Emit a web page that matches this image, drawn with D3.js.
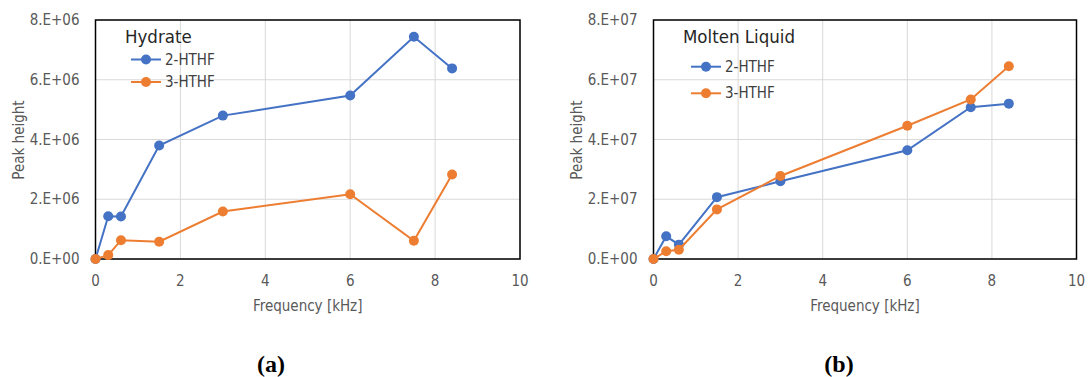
<!DOCTYPE html>
<html>
<head>
<meta charset="utf-8">
<script src="https://cdn.jsdelivr.net/npm/d3@7"></script>
<style>
  body { margin: 0; background: #fff; }
  svg text { font-family: "DejaVu Sans Condensed", "Roboto", sans-serif; }
  svg text.caption { font-family: "Liberation Serif", "DejaVu Serif", serif; }
</style>
</head>
<body>
<script>
(function() {

    // frequency values shared by both panels
    var freq = [0, 0.3, 0.6, 1.5, 3, 6, 7.5, 8.4];

    // panel (a) hydrate
    var hydrate2 = [0, 1.43e6, 1.42e6, 3.8e6, 4.8e6, 5.47e6, 7.44e6, 6.38e6];
    var hydrate3 = [0, 0.13e6, 0.63e6, 0.58e6, 1.59e6, 2.17e6, 0.61e6, 2.83e6];

    // panel (b) molten liquid
    var liquid2 = [0, 0.76e7, 0.48e7, 2.07e7, 2.6e7, 3.64e7, 5.08e7, 5.2e7];
    var liquid3 = [0, 0.26e7, 0.31e7, 1.66e7, 2.78e7, 4.46e7, 5.34e7, 6.45e7];

    var xTicks = [0, 2, 4, 6, 8, 10];
    var yTicksA = ["0.E+00", "2.E+06", "4.E+06", "6.E+06", "8.E+06"];
    var yTicksB = ["0.E+00", "2.E+07", "4.E+07", "6.E+07", "8.E+07"];
    var seriesNames = ["2-HTHF", "3-HTHF"];
    var colors = ["#4472C4", "#ED7D31"];

    var width = 1089, height = 377;

    var svg = d3.select("body").append("svg")
        .attr("width", width)
        .attr("height", height);

    var drawPanel = function(opt) {
        var x = d3.scaleLinear().domain([0, 10]).range([opt.left, opt.right]);
        var y = d3.scaleLinear().domain([0, opt.yMax]).range([259, 20]);
        var g = svg.append("g");
        var yVals = opt.yLabels.map(function(d, i) { return i * opt.yMax / 4; });

        // grid
        g.selectAll(".gx").data(xTicks).enter().append("line")
            .attr("x1", function(d) { return x(d); })
            .attr("x2", function(d) { return x(d); })
            .attr("y1", y(0)).attr("y2", y(opt.yMax))
            .attr("stroke", "#d9d9d9").attr("stroke-width", 1);
        g.selectAll(".gy").data(yVals).enter().append("line")
            .attr("x1", x(0)).attr("x2", x(10))
            .attr("y1", function(d) { return y(d); })
            .attr("y2", function(d) { return y(d); })
            .attr("stroke", "#d9d9d9").attr("stroke-width", 1);

        // plot border
        g.append("rect")
            .attr("x", x(0)).attr("y", y(opt.yMax))
            .attr("width", x(10) - x(0)).attr("height", y(0) - y(opt.yMax))
            .attr("fill", "none").attr("stroke", "#000").attr("stroke-width", 1.5);

        // tick labels
        g.selectAll(".tx").data(xTicks).enter().append("text")
            .attr("x", function(d) { return x(d); })
            .attr("y", 286)
            .attr("text-anchor", "middle")
            .attr("font-size", 15).attr("fill", "#595959")
            .text(function(d) { return d; });
        g.selectAll(".ty").data(opt.yLabels).enter().append("text")
            .attr("x", x(0) - 16)
            .attr("y", function(d, i) { return y(yVals[i]) + 5; })
            .attr("text-anchor", "end")
            .attr("font-size", 15).attr("fill", "#595959")
            .text(function(d) { return d; });

        // axis titles
        g.append("text")
            .attr("x", (x(0) + x(10)) / 2).attr("y", 311)
            .attr("text-anchor", "middle")
            .attr("font-size", 15).attr("fill", "#595959")
            .text("Frequency [kHz]");
        g.append("text")
            .attr("transform", "translate(" + (opt.left - 72) + ",140) rotate(-90)")
            .attr("text-anchor", "middle")
            .attr("font-size", 15).attr("fill", "#595959")
            .text("Peak height");

        // series
        var line = d3.line()
            .x(function(d) { return x(d[0]); })
            .y(function(d) { return y(d[1]); });

        opt.series.forEach(function(vals, si) {
            var pts = freq.map(function(f, i) { return [f, vals[i]]; });
            g.append("path").datum(pts)
                .attr("d", line)
                .attr("fill", "none")
                .attr("stroke", colors[si]).attr("stroke-width", 2);
            g.selectAll(".p" + si).data(pts).enter().append("circle")
                .attr("cx", function(d) { return x(d[0]); })
                .attr("cy", function(d) { return y(d[1]); })
                .attr("r", 5)
                .attr("fill", colors[si]);
        });

        // legend
        g.append("text")
            .attr("x", opt.legX).attr("y", opt.legTitleY)
            .attr("font-size", 18.5).attr("fill", "#262626")
            .text(opt.title);
        seriesNames.forEach(function(name, si) {
            var ly = opt.legY[si];
            g.append("line")
                .attr("x1", opt.legLine).attr("x2", opt.legLine + 30)
                .attr("y1", ly).attr("y2", ly)
                .attr("stroke", colors[si]).attr("stroke-width", 2);
            g.append("circle")
                .attr("cx", opt.legLine + 15).attr("cy", ly).attr("r", 5)
                .attr("fill", colors[si]);
            g.append("text")
                .attr("x", opt.legLine + 34).attr("y", ly + 5)
                .attr("font-size", 15).attr("fill", "#404040")
                .text(name);
        });

        // caption
        svg.append("text")
            .attr("class", "caption")
            .attr("x", opt.capX).attr("y", 372)
            .attr("text-anchor", "middle")
            .attr("font-size", 24).attr("font-weight", "bold").attr("fill", "#000")
            .text(opt.caption);
    };

    drawPanel({
        left: 95.5, right: 520, yMax: 8e6, yLabels: yTicksA,
        series: [hydrate2, hydrate3], title: "Hydrate",
        legX: 125, legTitleY: 43, legLine: 131, legY: [59.5, 82],
        caption: "(a)", capX: 271
    });

    drawPanel({
        left: 653.5, right: 1076.5, yMax: 8e7, yLabels: yTicksB,
        series: [liquid2, liquid3], title: "Molten Liquid",
        legX: 683, legTitleY: 43, legLine: 691, legY: [66.7, 93.3],
        caption: "(b)", capX: 839
    });

})();
</script>
</body>
</html>
